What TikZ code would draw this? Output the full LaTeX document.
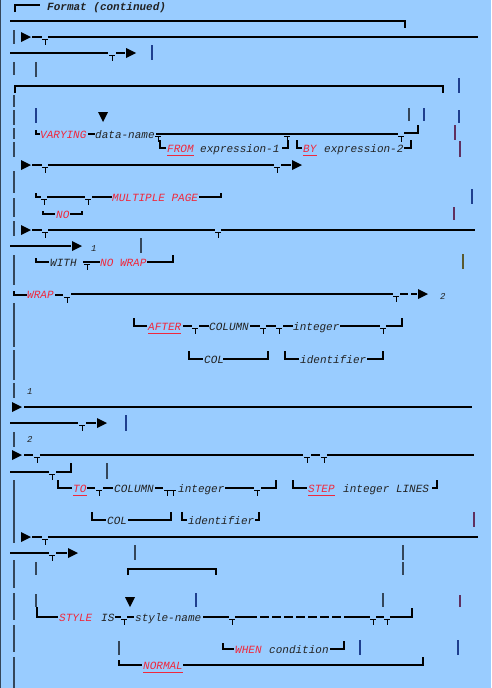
\documentclass[tikz,border=0pt]{standalone}
\usepackage{fontspec}
\setmonofont{Liberation Mono}
\usetikzlibrary{positioning}
\definecolor{synbg}{HTML}{99CCFF}
\definecolor{kwred}{HTML}{F0283C}
\definecolor{argdark}{HTML}{222222}
\definecolor{barblue}{HTML}{1F3F8F}
\definecolor{bargray}{HTML}{34465A}
\definecolor{barpurple}{HTML}{603060}
\definecolor{barolive}{HTML}{5A5A30}
\newcommand{\synfont}{\fontsize{11}{13}\selectfont\ttfamily\itshape}
\newcommand{\kwunder}[1]{\draw[kwred, line width=1pt] ([yshift=-3.5pt]#1.base west) -- ([yshift=-3.5pt]#1.base east);}

\begin{document}
\begin{tikzpicture}[x=1pt, y=-1pt,
    synline/.style={draw=black, line width=1.1pt},
    synbar/.style={draw=bargray, line width=2pt},
    kwtext/.style={text=kwred, inner sep=0, anchor=base west, font=\synfont},
    argtext/.style={text=argdark, inner sep=0, anchor=base west, font=\synfont},
    refnum/.style={text=argdark, inner sep=0, anchor=base west, font=\fontsize{9}{10}\selectfont\ttfamily\itshape},
    tee/.pic={\draw[line width=1pt] (-3,2.5) -- (3,2.5) (0,2.5) -- (0,7.5);},
    rarrow/.pic={\fill (0,-5) -- (10,0) -- (0,5) -- cycle;},
    darrow/.pic={\fill (-5,0) -- (5,0) -- (0,10) -- cycle;},
  ]
  \useasboundingbox (0,0) rectangle (491,688);
  \fill[synbg] (0,0) rectangle (491,688);
  \draw[bargray, line width=1pt] (0.5,0) -- (0.5,688);

  % heading
  \draw[synline] (15,12) |- (40,5);
  \node[argtext, font=\synfont\bfseries] (fmt) at (47,10) {Format (continued)};
  \draw[synline] (10,21) -- (405,21) -- (405,28);

  % first line
  \draw[synbar] (14,30) -- (14,44);
  \pic at (21,37) {rarrow};
  \draw[synline] (32,37) -- (42,37) (48,37) -- (478,37);
  \pic at (45,37) {tee};
  \draw[synline] (10,53) -- (108,53) (116,53) -- (125,53);
  \pic at (112,53) {tee};
  \pic at (126,53) {rarrow};
  \draw[synbar, barblue] (152,45) -- (152,60);
  \draw[synbar] (14,62) -- (14,75) (36,62) -- (36,77);

  % VARYING block
  \draw[synline] (15,93) |- (443,86) -- (443,93);
  \draw[synbar, barblue] (459,78) -- (459,93);
  \draw[synbar] (14,95) -- (14,107) (14,110) -- (14,125) (14,128) -- (14,139)
    (14,142) -- (14,157) (14,171) -- (14,193) (14,198) -- (14,217) (14,221) -- (14,236);
  \draw[synbar, barblue] (36,108) -- (36,123);
  \pic at (103,112) {darrow};
  \draw[synline] (36,130) |- (40,134);
  \node[kwtext] (varying) at (40,138) {VARYING};
  \draw[synline] (88,134) -- (95,134);
  \node[argtext] (dataname) at (95,138) {data-name};
  \draw[synline] (156,134) -- (398,134) (404,133) -| (418,125);
  \pic at (158,134) {tee};
  \pic at (287,134) {tee};
  \pic at (401,134) {tee};
  \draw[synline] (160,140) |- (166,148);
  \node[kwtext] (from) at (167,152) {FROM};
  \kwunder{from}
  \node[argtext] (expra) at (200,152) {expression-1};
  \draw[synline] (282,148) -| (288,140);
  \draw[synline] (297,140) |- (302,148);
  \node[kwtext] (by) at (303,152) {BY};
  \kwunder{by}
  \node[argtext] (exprb) at (324,152) {expression-2};
  \draw[synline] (404,148) -| (411,140);
  \draw[synbar] (409,108) -- (409,121);
  \draw[synbar, barblue] (424,108) -- (424,121) (459,110) -- (459,123);
  \draw[synbar, barpurple] (455,125) -- (455,140) (460,141) -- (460,157);

  \pic at (21,165) {rarrow};
  \draw[synline] (32,165) -- (42,165) (48,165) -- (274,165) (281,165) -- (291,165);
  \pic at (45,165) {tee};
  \pic at (277,165) {tee};
  \pic at (292,165) {rarrow};

  % MULTIPLE PAGE
  \draw[synline] (36,193) |- (41,197);
  \pic at (44,197) {tee};
  \draw[synline] (47,197) -- (85,197) (92,197) -- (112,197);
  \pic at (88,197) {tee};
  \node[kwtext] (mpage) at (112,201) {MULTIPLE PAGE};
  \draw[synline] (199,197) -| (221,193);
  \draw[synline] (43,211) |- (55,214);
  \node[kwtext] (no) at (56,218) {NO};
  \draw[synline] (70,214) -| (82,211);
  \draw[synbar, barblue] (472,189) -- (472,204);
  \draw[synbar, barpurple] (454,207) -- (454,220);

  \pic at (21,230) {rarrow};
  \draw[synline] (32,230) -- (42,230) (48,230) -- (215,230) (221,230) -- (475,230);
  \pic at (45,230) {tee};
  \pic at (218,230) {tee};
  \draw[synline] (10,246) -- (71,246);
  \pic at (72,246) {rarrow};
  \node[refnum] (refa) at (91,251) {1};
  \draw[synbar] (141,238) -- (141,253);

  % WITH NO WRAP
  \draw[synbar] (14,255) -- (14,285);
  \draw[synline] (36,258) |- (49,262);
  \node[argtext] (with) at (50,266) {WITH};
  \draw[synline] (83,262) -- (100,262);
  \pic at (87,262) {tee};
  \node[kwtext] (nowrap) at (100,266) {NO WRAP};
  \draw[synline] (147,262) -| (173,255);
  \draw[synbar, barolive] (463,254) -- (463,269);

  % WRAP
  \draw[synline] (14,291) |- (27,295);
  \node[kwtext] (wrap) at (27,298) {WRAP};
  \draw[synline] (55,295) -- (63,295) (71,294) -- (393,294) (400,294) -- (408,294) (411,294) -- (417,294);
  \pic at (67,295) {tee};
  \pic at (396,294) {tee};
  \pic at (418,294) {rarrow};
  \node[refnum] (refb) at (440,299) {2};
  \draw[synbar] (14,303) -- (14,347) (14,350) -- (14,380) (14,383) -- (14,398);

  \draw[synline] (134,318) |- (147,326);
  \node[kwtext] (after) at (148,330) {AFTER};
  \kwunder{after}
  \draw[synline] (183,326) -- (192,326) (199,326) -- (209,326);
  \pic at (195,326) {tee};
  \node[argtext] (columna) at (209,330) {COLUMN};
  \draw[synline] (250,326) -- (260,326) (266,326) -- (276,326) (283,326) -- (293,326);
  \pic at (263,326) {tee};
  \pic at (279,326) {tee};
  \node[argtext] (integera) at (293,330) {integer};
  \draw[synline] (340,326) -- (380,326) (386,326) -| (402,318);
  \pic at (383,326) {tee};
  \draw[synline] (189,351) |- (203,359);
  \node[argtext] (cola) at (204,363) {COL};
  \draw[synline] (223,359) -| (268,351);
  \draw[synline] (285,351) |- (299,359);
  \node[argtext] (identa) at (300,363) {identifier};
  \draw[synline] (367,359) -| (383,351);

  % reference 1
  \node[refnum] (refc) at (27,394) {1};
  \pic at (12,407) {rarrow};
  \draw[synline] (24,407) -- (472,407);
  \draw[synline] (10,423) -- (78,423) (86,423) -- (96,423);
  \pic at (82,423) {tee};
  \pic at (97,423) {rarrow};
  \draw[synbar, barblue] (126,415) -- (126,431);

  % reference 2
  \draw[synbar] (14,432) -- (14,447);
  \node[refnum] (refd) at (27,442) {2};
  \pic at (12,455) {rarrow};
  \draw[synline] (24,455) -- (33,455) (40,455) -- (303,455) (311,455) -- (320,455) (327,455) -- (474,455);
  \pic at (37,455) {tee};
  \pic at (307,455) {tee};
  \pic at (324,455) {tee};
  \draw[synline] (10,472) -- (49,472) (56,472) -| (71,463);
  \pic at (52,472) {tee};
  \draw[synbar] (107,463) -- (107,479);

  % TO COLUMN / STEP
  \draw[synbar] (14,480) -- (14,543);
  \draw[synline] (58,480) |- (72,488);
  \node[kwtext] (to) at (73,492) {TO};
  \kwunder{to}
  \draw[synline] (87,488) -- (95,488) (103,488) -- (113,488);
  \pic at (99,488) {tee};
  \node[argtext] (columnb) at (114,492) {COLUMN};
  \draw[synline] (155,488) -- (163,488);
  \pic at (167,488) {tee};
  \pic at (173,488) {tee};
  \node[argtext] (integerb) at (178,492) {integer};
  \draw[synline] (225,488) -- (254,488) (261,488) -| (276,480);
  \pic at (257,488) {tee};
  \draw[synline] (293,480) |- (307,488);
  \node[kwtext] (step) at (308,492) {STEP};
  \kwunder{step}
  \node[argtext] (lines) at (343,492) {integer LINES};
  \draw[synline] (432,488) -| (437,480);
  \draw[synline] (92,512) |- (106,520);
  \node[argtext] (colb) at (107,524) {COL};
  \draw[synline] (128,520) -| (171,512);
  \draw[synline] (182,512) |- (187,520);
  \node[argtext] (identb) at (188,524) {identifier};
  \draw[synline] (255,520) -| (259,512);
  \draw[synbar, barpurple] (474,512) -- (474,527);

  \pic at (21,537) {rarrow};
  \draw[synline] (32,537) -- (42,537) (48,537) -- (478,537);
  \pic at (45,537) {tee};
  \draw[synline] (10,553) -- (49,553) (56,553) -- (67,553);
  \pic at (52,553) {tee};
  \pic at (68,553) {rarrow};
  \draw[synbar] (135,545) -- (135,560) (403,545) -- (403,560);

  % STYLE IS
  \draw[synbar] (14,560) -- (14,588) (14,593) -- (14,620) (14,625) -- (14,652) (14,657) -- (14,688);
  \draw[synbar] (36,562) -- (36,575) (36,594) -- (36,607) (403,562) -- (403,575);
  \draw[synline] (128,575) |- (216,569) -- (216,575);
  \pic at (130,597) {darrow};
  \draw[synbar, barblue] (196,593) -- (196,607);
  \draw[synbar] (383,593) -- (383,607);
  \draw[synbar, barpurple] (460,595) -- (460,607);
  \draw[synline] (37,607) |- (58,617);
  \node[kwtext] (style) at (59,621) {STYLE};
  \node[argtext] (is) at (101,621) {IS};
  \draw[synline] (115,617) -- (121,617) (127,617) -- (134,617);
  \pic at (124,617) {tee};
  \node[argtext] (stylename) at (135,621) {style-name};
  \draw[synline] (203,617) -- (229,617) (235,617) -- (248,617);
  \pic at (232,617) {tee};
  \draw[synline, dash pattern=on 9pt off 3pt] (248,617) -- (352,617);
  \draw[synline] (352,617) -- (370,617) (376,617) -- (384,617) (390,617) -| (412,608);
  \pic at (373,617) {tee};
  \pic at (387,617) {tee};

  \draw[synbar] (119,641) -- (119,655);
  \draw[synline] (223,643) |- (234,649);
  \node[kwtext] (when) at (235,653) {WHEN};
  \node[argtext] (cond) at (269,653) {condition};
  \draw[synline] (330,649) -| (344,641);
  \draw[synbar, barblue] (360,640) -- (360,655) (458,640) -- (458,655);

  \draw[synline] (119,660) |- (142,665);
  \node[kwtext] (normal) at (143,669) {NORMAL};
  \kwunder{normal}
  \draw[synline] (183,665) -| (423,657);
\end{tikzpicture}
\end{document}
